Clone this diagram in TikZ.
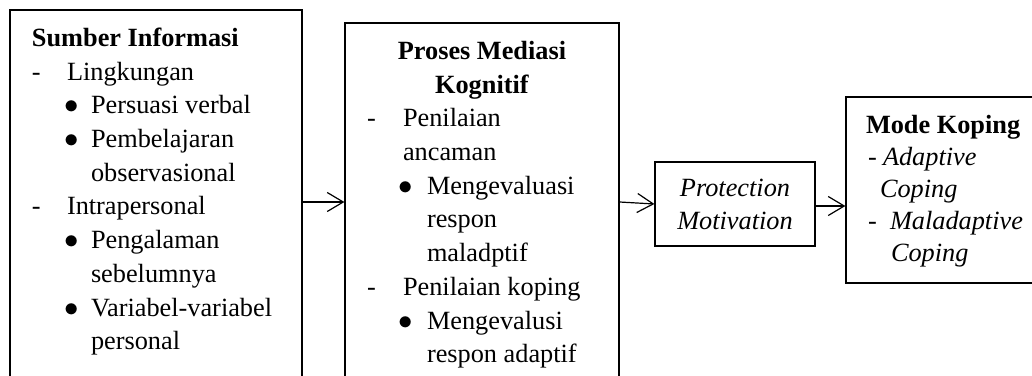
\documentclass[tikz,border=0pt]{standalone}
\usepackage{fontspec}
\setmainfont{Liberation Serif}
\usetikzlibrary{arrows.meta,fit}
\newcommand{\mytxt}[4]{\node[txt] (#1) at (#2,#3) {#4};}
\newcommand{\mybul}[3]{\node[bul] (#1) at (#2,#3) {$\bullet$};}
\newcommand{\mymid}[4]{\node[txtc] (#1) at (#2,#3) {#4};}
\begin{document}
\begin{tikzpicture}[x=0.5pt,y=-0.5pt,
  box/.style={draw,line width=0.6pt,inner sep=0pt},
  txt/.style={anchor=base west,inner sep=0pt,outer sep=0pt,font=\fontsize{13.15pt}{16pt}\selectfont},
  txtc/.style={anchor=base,inner sep=0pt,outer sep=0pt,font=\fontsize{13.15pt}{16pt}\selectfont},
  bul/.style={anchor=base,inner sep=0pt,outer sep=0pt,font=\fontsize{14pt}{16pt}\selectfont},
  arr/.style={line width=0.6pt,-{Straight Barb[length=8pt,width=9.5pt]}}]
\useasboundingbox (0,0) rectangle (1032,375);
\clip (0,0) rectangle (1032,375);
% boxes
\node[box,fit={(10,10) (302,394)}] (b1) {};
\node[box,fit={(345,23) (619,381)}] (b2) {};
\node[box,fit={(655,162) (815,246)}] (b3) {};
\node[box,fit={(846,97) (1045,283)}] (b4) {};
% box 1 text
\mytxt{s0}{32}{46}{\textbf{Sumber Informasi}}
\mytxt{s1d}{32}{80}{-}
\mytxt{s1}{67}{80}{Lingkungan}
\mybul{s2b}{72}{113}
\mytxt{s2}{91}{113}{Persuasi verbal}
\mybul{s3b}{72}{147}
\mytxt{s3}{91}{147}{Pembelajaran}
\mytxt{s4}{91}{181}{observasional}
\mytxt{s5d}{32}{214}{-}
\mytxt{s5}{67}{214}{Intrapersonal}
\mybul{s6b}{72}{248}
\mytxt{s6}{91}{248}{Pengalaman}
\mytxt{s7}{91}{282}{sebelumnya}
\mybul{s8b}{72}{316}
\mytxt{s8}{91}{316}{Variabel-variabel}
\mytxt{s9}{91}{349}{personal}
% box 2 text
\mymid{p0}{482}{59}{\textbf{Proses Mediasi}}
\mymid{p1}{482}{93}{\textbf{Kognitif}}
\mytxt{p2d}{367}{126}{-}
\mytxt{p2}{403}{126}{Penilaian}
\mytxt{p3}{403}{160}{ancaman}
\mybul{p4b}{406}{194}
\mytxt{p4}{427}{194}{Mengevaluasi}
\mytxt{p5}{427}{227}{respon}
\mytxt{p6}{427}{261}{maladptif}
\mytxt{p7d}{367}{295}{-}
\mytxt{p7}{403}{295}{Penilaian koping}
\mybul{p8b}{406}{329}
\mytxt{p8}{427}{329}{Mengevalusi}
\mytxt{p9}{427}{362}{respon adaptif}
% box 3 text
\mymid{m0}{735}{196}{\textit{Protection}}
\mymid{m1}{735}{229}{\textit{Motivation}}
% box 4 text
\mytxt{k0}{866}{133}{\textbf{Mode Koping}}
\mytxt{k1d}{868}{165}{-}
\mytxt{k1}{883}{165}{\textit{Adaptive}}
\mytxt{k2}{880}{197}{\textit{Coping}}
\mytxt{k3d}{868}{229}{-}
\mytxt{k3}{890}{229}{\textit{Maladaptive}}
\mytxt{k4}{891}{261}{\textit{Coping}}
% connectors
\coordinate (c3) at ([yshift=-1pt]b3.east);
\draw[arr] (b1.east) -- (b2.west);
\draw[arr] (b2.east) -- (b3.west);
\draw[arr] (c3) -- (b4.west |- c3);
\end{tikzpicture}
\end{document}
